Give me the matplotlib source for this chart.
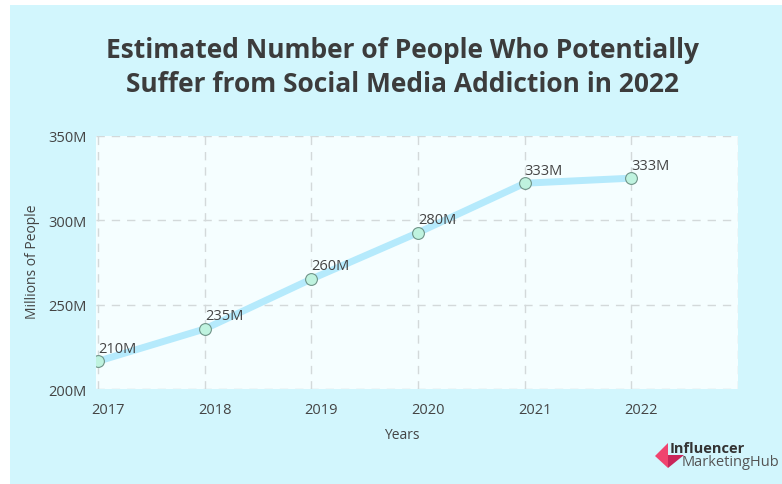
import matplotlib.pyplot as plt
from matplotlib.patches import Rectangle, Polygon
from matplotlib.transforms import ScaledTranslation

years = [2017, 2018, 2019, 2020, 2021, 2022]
# marker positions as drawn (millions)
people = [216.5, 235.6, 265.2, 292.7, 322.0, 325.0]
# labels as printed on the chart
labels = ['210M', '235M', '260M', '280M', '333M', '333M']
y_ticks = [200, 250, 300, 350]
y_tick_labels = ['200M', '250M', '300M', '350M']

W, H = 782, 485
panel_col = '#d2f6fd'
plot_col = '#f5feff'
text_col = '#444444'
font = 'Open Sans'

plt.rcParams['font.family'] = [font, 'DejaVu Sans']

fig = plt.figure(figsize=(W / 100, H / 100), dpi=100)
fig.patch.set_facecolor('white')

def fx(x):
    return x / W

def fy(y):
    return (H - y) / H

# background panel
fig.patches.append(Rectangle((fx(10), 0), 1 - fx(10), fy(6), transform=fig.transFigure,
                             facecolor=panel_col, edgecolor='none', zorder=-1))

ax = fig.add_axes([fx(96), fy(390), fx(738) - fx(96), fy(137) - fy(390)])
ax.set_zorder(1)
ax.set_facecolor(plot_col)
for s in ax.spines.values():
    s.set_visible(False)

ax.plot(years, people, color='#b5eafc', lw=5, solid_capstyle='round', zorder=3)
ax.plot(years, people, 'o', ms=8.5, markerfacecolor='#bff3df', markeredgecolor='#6f9488',
        markeredgewidth=0.8, zorder=4)

for x, y, t in zip(years, people, labels):
    ax.annotate(t, (x, y), xytext=(0, 4), textcoords='offset points', ha='left', va='bottom',
                fontsize=10.5, color=text_col, zorder=5)

ax.set_xlim(2016.98, 2023)
ax.set_ylim(200, 350)
ax.set_xticks(years + [2023])
ax.set_xticklabels([str(y) for y in years] + [''])
ax.set_yticks(y_ticks)
ax.set_yticklabels(y_tick_labels)
ax.tick_params(length=0, labelsize=10.5, labelcolor=text_col)
ax.tick_params(axis='x', pad=9.5)
ax.tick_params(axis='y', pad=7)
offset = ScaledTranslation(-5 / 72, 0, fig.dpi_scale_trans)
for lab in ax.get_xticklabels():
    lab.set_ha('left')
    lab.set_transform(lab.get_transform() + offset)
ax.grid(True, color='#d3d9da', ls=(0, (6, 5)), lw=1)

fig.text(0.515, fy(51), 'Estimated Number of People Who Potentially', ha='center', va='center',
         fontsize=19, fontweight='bold', color='#3c3c3c')
fig.text(0.515, fy(84), 'Suffer from Social Media Addiction in 2022', ha='center', va='center',
         fontsize=19, fontweight='bold', color='#3c3c3c')
fig.text(fx(32), fy(262), 'Millions of People', rotation=90, ha='center', va='center',
         fontsize=10, color=text_col)
fig.text(fx(402), fy(436), 'Years', ha='center', va='center', fontsize=10, color=text_col)

# logo
fig.patches.append(Polygon([(fx(655), fy(457)), (fx(668), fy(444)), (fx(668), fy(469))],
                           closed=True, transform=fig.transFigure, facecolor='#f0436f',
                           edgecolor='none'))
fig.patches.append(Polygon([(fx(668), fy(456)), (fx(684), fy(456)), (fx(668), fy(469))],
                           closed=True, transform=fig.transFigure, facecolor='#c9265a',
                           edgecolor='none'))
fig.text(fx(670), fy(449), 'Influencer', ha='left', va='center', fontsize=10.5,
         fontweight='bold', color='#333333')
fig.text(fx(682), fy(463), 'MarketingHub', ha='left', va='center', fontsize=10.5,
         color='#555555')

fig.savefig('out.png', dpi=100)
